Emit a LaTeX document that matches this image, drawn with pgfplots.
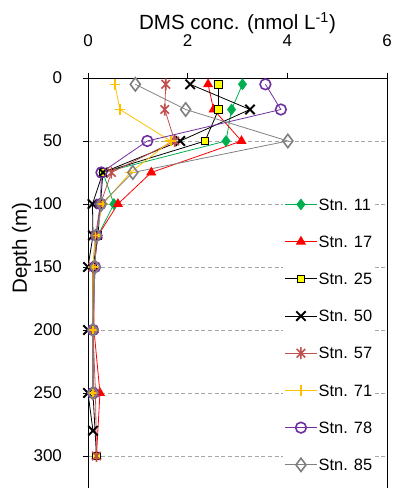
\documentclass[border=0pt]{standalone}
\usepackage{pgfplots}
\pgfplotsset{compat=1.18}
\usepackage{fontspec}
\setmainfont{Liberation Sans}
\definecolor{cgreen}{RGB}{0,176,80}
\definecolor{cred}{RGB}{255,0,0}
\definecolor{cyel}{RGB}{255,255,0}
\definecolor{cbrown}{RGB}{192,80,77}
\definecolor{cgold}{RGB}{255,192,0}
\definecolor{cpurple}{RGB}{112,48,160}
\definecolor{cgrey}{RGB}{128,128,128}
\pgfdeclareplotmark{xstar}{%
 \pgfpathmoveto{\pgfqpoint{-.7071\pgfplotmarksize}{-.7071\pgfplotmarksize}}%
 \pgfpathlineto{\pgfqpoint{.7071\pgfplotmarksize}{.7071\pgfplotmarksize}}%
 \pgfpathmoveto{\pgfqpoint{-.7071\pgfplotmarksize}{.7071\pgfplotmarksize}}%
 \pgfpathlineto{\pgfqpoint{.7071\pgfplotmarksize}{-.7071\pgfplotmarksize}}%
 \pgfpathmoveto{\pgfqpoint{0pt}{-\pgfplotmarksize}}%
 \pgfpathlineto{\pgfqpoint{0pt}{\pgfplotmarksize}}%
 \pgfusepathqstroke}
\begin{document}
\begin{tikzpicture}
\begin{axis}[
  at={(0,0)}, anchor=north west,
  scale only axis, width=224.25pt, height=309pt,
  xmin=0, xmax=6, ymin=0, ymax=327,
  y dir=reverse,
  xtick={0,2,4,6}, ytick={0,50,100,150,200,250,300},
  xtick pos=upper, xticklabel pos=upper,
  ytick pos=left,
  tick align=outside, major tick length=4pt,
  tick style={black, line width=0.6pt},
  axis line style={line width=0.7pt},
  ymajorgrids, grid style={densely dashed, gray!70, line width=0.5pt},
  /pgf/number format/assume math mode=true,
  ticklabel style={font=\fontsize{12.75}{15}\selectfont},
  xticklabel style={anchor=center}, xticklabel shift=24pt,
  yticklabel style={anchor=east}, yticklabel shift=12pt,
  xlabel={DMS conc. (nmol L\textsuperscript{-1})},
  xlabel style={at={(axis description cs:0.5,1)}, anchor=center, yshift=41.25pt, font=\fontsize{15.4}{18}\selectfont},
  ylabel={Depth (m)},
  ylabel style={at={(axis description cs:-0.222,0.587)}, anchor=center, rotate=0, font=\fontsize{15.4}{18}\selectfont},
  legend cell align=left,
  legend style={at={(axis description cs:0.652,0.714)}, anchor=north west, draw=none, fill=white,
    font=\fontsize{12.3}{14}\selectfont, row sep=17.4pt, inner sep=1pt,
    nodes={inner sep=1pt, text height=8.5pt, text depth=0pt}},
  legend image code/.code={\draw[mark repeat=2, mark phase=2] plot coordinates {(0pt,0pt) (12pt,0pt) (24pt,0pt)};},
  every axis plot/.append style={line width=0.6pt},
]
\addplot[cgreen, mark=diamond*, mark size=4pt, mark options={fill=cgreen}] coordinates {
 (3.10,5) (2.88,25) (2.77,50) (0.30,75) (0.52,100) (0.20,125) (0.10,150) (0.10,200) (0.10,250)};
\addlegendentry{Stn. 11}
\addplot[cred, mark=triangle*, mark size=3.8pt, mark options={fill=cred}] coordinates {
 (2.41,5) (2.52,25) (3.08,50) (1.27,75) (0.60,100) (0.20,125) (0.12,150) (0.12,200) (0.24,250) (0.17,300)};
\addlegendentry{Stn. 17}
\addplot[black, mark=square*, mark size=2.8pt, mark options={fill=cyel, draw=black, line width=0.6pt}] coordinates {
 (2.62,5) (2.62,25) (2.35,50) (0.30,75) (0.25,100) (0.20,125) (0.10,150) (0.10,200) (0.10,250) (0.17,300)};
\addlegendentry{Stn. 25}
\addplot[black, mark=x, mark size=5pt, mark options={line width=1.4pt}] coordinates {
 (2.05,5) (3.25,25) (1.85,50) (0.30,75) (0.09,100) (0.10,125) (0.00,150) (0.00,200) (0.00,250) (0.10,280)};
\addlegendentry{Stn. 50}
\addplot[cbrown, mark=xstar, mark size=4.5pt, mark options={line width=1.2pt}] coordinates {
 (1.56,5) (1.54,25) (1.74,50) (0.47,75) (0.25,100) (0.15,125) (0.10,150) (0.10,200) (0.15,250) (0.17,300)};
\addlegendentry{Stn. 57}
\addplot[cgold, mark=+, mark size=4pt, mark options={line width=1.2pt}] coordinates {
 (0.54,5) (0.64,25) (1.66,50) (0.85,75) (0.30,100) (0.15,125) (0.10,150) (0.10,200) (0.10,250)};
\addlegendentry{Stn. 71}
\addplot[cpurple, mark=o, mark size=4pt, mark options={fill=white, line width=1.2pt}] coordinates {
 (3.56,5) (3.87,25) (1.19,50) (0.27,75) (0.25,100) (0.17,125) (0.14,150) (0.10,200) (0.10,250)};
\addlegendentry{Stn. 78}
\addplot[cgrey, mark=diamond, mark size=5pt, mark options={fill=white, line width=1.2pt}] coordinates {
 (0.95,5) (1.96,25) (4.01,50) (0.90,75) (0.27,100) (0.17,125) (0.14,150) (0.10,200) (0.10,250)};
\addlegendentry{Stn. 85}
\end{axis}
\pgfresetboundingbox
\path (-66pt,58.5pt) rectangle (228.75pt,-307.5pt);
\end{tikzpicture}
\end{document}
